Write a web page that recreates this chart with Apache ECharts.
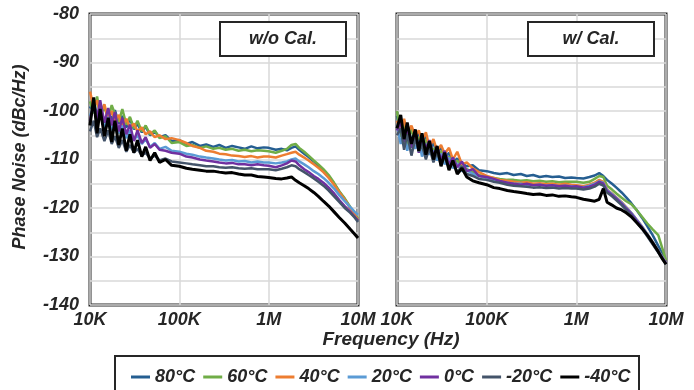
<!DOCTYPE html>
<html>
<head>
<meta charset="utf-8">
<script src="https://cdn.jsdelivr.net/npm/echarts@6/dist/echarts.min.js"></script>
<style>
  html, body { margin: 0; padding: 0; background: #fff; }
  #chart { width: 694px; height: 390px; }
</style>
</head>
<body>
<div id="chart"></div>
<script>
// frequency points in kHz
const freqKHz = [10, 11, 12, 13, 14.5, 16, 17.5, 19, 21, 23, 25.5, 28, 31, 34, 38, 42, 47, 53, 60, 70, 82,
  100, 120, 140, 170, 200, 240, 280, 330, 390, 460, 540, 640, 750, 880,
  1000, 1200, 1400, 1600, 1800, 2000, 2200, 2500, 2800, 3200, 3600, 4100, 4700, 5400, 6200, 7100, 8200, 9200, 10000]

const tempNames = ['80°C', '60°C', '40°C', '20°C', '0°C', '-20°C', '-40°C']
const tempColors = ['#255e91', '#70ad47', '#ed7d31', '#5b9bd5', '#7030a0', '#44546a', '#000000']
const xTickLabels = { 10: '10K', 100: '100K', 1000: '1M', 10000: '10M' }

// w/o Cal. (dBc/Hz)
const noCal80 = [-99.5, -97.8, -101.2, -99.0, -102.5, -100.2, -101.8, -99.8, -102.6, -101.0, -103.4, -101.6, -103.8, -102.6, -104.4, -103.2, -105.0, -104.2, -105.4, -105.0, -106.2,
  -106.0, -106.8, -106.4, -107.2, -106.9, -107.4, -107.0, -107.6, -107.2, -107.5, -107.8, -107.3, -107.7, -107.5,
  -107.6, -108.0, -107.8, -108.1, -107.6, -107.3, -108.0, -108.8, -109.5, -110.4, -111.3, -112.3, -113.5, -115.0, -116.7, -118.2, -120.0, -121.5, -122.6]
const noCal60 = [-98.0, -100.5, -97.0, -100.8, -99.2, -101.6, -98.8, -100.6, -102.2, -99.6, -102.8, -101.2, -103.6, -102.0, -104.2, -103.0, -104.8, -104.0, -105.6, -105.2, -106.6,
  -106.4, -107.2, -107.0, -107.6, -107.3, -107.8, -107.6, -108.0, -107.8, -108.2, -108.0, -108.3, -108.1, -108.2,
  -108.3, -108.6, -108.2, -107.8, -107.0, -106.8, -107.6, -108.4, -109.2, -110.2, -111.0, -112.0, -113.2, -114.8, -116.6, -118.0, -119.8, -121.2, -122.2]
const noCal40 = [-96.0, -99.2, -97.8, -100.6, -98.6, -101.8, -100.0, -102.0, -100.8, -103.2, -101.6, -103.4, -102.6, -104.2, -103.4, -104.8, -104.2, -105.4, -105.0, -105.8, -105.6,
  -106.0, -106.6, -107.2, -107.6, -108.2, -108.4, -108.8, -108.9, -109.2, -109.3, -109.5, -109.3, -109.6, -109.4,
  -109.4, -109.6, -109.2, -108.9, -108.6, -108.4, -109.0, -109.6, -110.2, -111.0, -111.7, -112.6, -113.8, -115.2, -116.8, -118.3, -120.0, -121.4, -122.5]
const noCal20 = [-101.0, -99.0, -102.4, -100.4, -103.6, -101.2, -104.0, -102.4, -104.6, -103.0, -105.6, -104.0, -106.0, -105.0, -106.8, -105.8, -107.4, -106.6, -107.8, -107.4, -108.2,
  -108.4, -108.8, -109.0, -109.4, -109.6, -109.8, -110.0, -110.2, -110.1, -110.4, -110.3, -110.6, -110.4, -110.6,
  -110.6, -110.8, -110.6, -110.4, -110.0, -109.8, -110.4, -111.0, -111.6, -112.4, -113.0, -113.8, -114.8, -116.0, -117.4, -118.6, -119.8, -120.8, -121.4]
const noCal0 = [-102.0, -98.4, -101.6, -97.8, -102.4, -99.4, -103.0, -100.2, -104.2, -101.4, -104.8, -102.8, -106.2, -104.0, -106.6, -105.4, -107.6, -106.8, -108.0, -108.2, -108.6,
  -108.8, -109.4, -109.6, -110.0, -110.2, -110.4, -110.6, -110.8, -110.7, -111.0, -111.0, -111.2, -111.0, -111.2,
  -111.3, -111.6, -111.2, -110.8, -110.2, -110.4, -111.2, -112.0, -112.6, -113.4, -114.0, -114.8, -115.8, -117.0, -118.4, -119.6, -120.8, -121.8, -122.6]
const noCalM20 = [-104.2, -102.0, -105.4, -103.6, -106.2, -104.0, -106.8, -105.2, -107.6, -106.0, -108.4, -107.0, -108.6, -107.8, -109.2, -108.6, -109.8, -109.2, -110.2, -109.8, -110.4,
  -110.6, -110.8, -111.0, -111.2, -111.4, -111.4, -111.6, -111.7, -111.6, -111.8, -111.9, -111.8, -112.0, -112.0,
  -112.0, -112.2, -111.9, -111.6, -111.2, -111.4, -112.0, -112.6, -113.2, -113.9, -114.6, -115.4, -116.4, -117.6, -118.8, -120.0, -121.0, -122.0, -122.9]
const noCalM40 = [-103.0, -97.2, -104.6, -99.6, -105.2, -101.4, -106.4, -102.0, -107.0, -103.6, -108.2, -104.8, -108.6, -106.0, -109.4, -107.4, -110.2, -108.6, -110.6, -110.0, -111.2,
  -111.4, -111.8, -112.0, -112.2, -112.4, -112.4, -112.6, -112.8, -112.7, -113.0, -113.2, -113.2, -113.5, -113.6,
  -113.7, -113.9, -114.0, -113.8, -113.6, -114.3, -114.8, -115.4, -116.0, -116.8, -117.6, -118.6, -119.6, -120.8, -122.0, -123.1, -124.4, -125.4, -126.2]

// w/ Cal. (dBc/Hz)
const cal80 = [-101.0, -104.6, -102.2, -105.8, -103.4, -106.6, -104.4, -107.2, -105.2, -108.0, -106.6, -108.8, -107.4, -109.8, -108.6, -110.6, -109.8, -110.8, -111.4, -111.2, -112.2,
  -112.4, -112.8, -113.0, -112.8, -113.2, -113.0, -113.4, -113.2, -113.6, -113.4, -113.6, -113.5, -113.8, -113.7,
  -113.8, -113.9, -113.6, -113.3, -112.8, -113.4, -114.2, -115.0, -115.8, -116.8, -117.8, -119.0, -120.4, -122.0, -123.8, -125.6, -127.8, -129.6, -131.0]
const cal60 = [-100.0, -105.4, -102.6, -107.4, -103.6, -106.2, -105.4, -108.6, -105.8, -107.6, -107.8, -109.6, -108.2, -110.4, -109.4, -111.2, -110.2, -111.6, -112.0, -112.6, -113.2,
  -113.6, -113.8, -114.0, -114.2, -114.2, -114.4, -114.3, -114.5, -114.4, -114.6, -114.5, -114.7, -114.6, -114.6,
  -114.6, -114.8, -114.6, -114.0, -113.4, -113.6, -115.4, -116.2, -117.0, -117.9, -118.6, -119.2, -120.4, -121.8, -123.2, -124.4, -125.6, -128.6, -130.8]
const cal40 = [-102.0, -104.0, -101.6, -104.8, -103.0, -105.2, -104.0, -106.2, -104.4, -107.4, -105.8, -108.2, -107.0, -108.8, -107.6, -110.0, -108.4, -111.0, -110.6, -111.8, -112.6,
  -113.4, -113.8, -114.2, -114.4, -114.6, -114.8, -114.7, -115.0, -114.9, -115.1, -115.0, -115.2, -115.0, -115.2,
  -115.3, -115.5, -115.2, -114.8, -114.2, -114.6, -116.2, -117.0, -117.8, -118.8, -119.8, -121.0, -122.4, -123.8, -125.4, -127.0, -128.8, -130.2, -131.2]
const cal20 = [-103.0, -106.8, -104.0, -108.2, -105.2, -107.8, -106.0, -109.4, -106.8, -109.0, -108.2, -110.2, -108.8, -111.0, -109.6, -111.8, -110.8, -112.4, -112.2, -113.0, -113.4,
  -113.8, -114.2, -114.6, -114.8, -115.0, -115.0, -115.2, -115.3, -115.2, -115.4, -115.3, -115.5, -115.4, -115.5,
  -115.6, -115.7, -115.4, -115.0, -114.5, -114.8, -116.3, -117.1, -117.9, -118.9, -119.9, -121.0, -122.4, -123.8, -125.4, -127.0, -128.8, -130.2, -131.3]
const cal0 = [-104.0, -102.2, -106.4, -103.4, -107.6, -104.0, -108.6, -105.2, -107.8, -106.0, -109.4, -107.4, -110.2, -108.2, -111.0, -109.6, -111.6, -110.4, -112.4, -112.0, -113.4,
  -113.6, -114.0, -114.4, -114.8, -115.0, -115.2, -115.0, -115.3, -115.2, -115.4, -115.3, -115.5, -115.4, -115.6,
  -115.5, -115.8, -115.6, -115.2, -114.6, -115.0, -116.5, -117.3, -118.1, -119.1, -120.1, -121.2, -122.6, -124.0, -125.6, -127.2, -129.0, -130.4, -131.4]
const calM20 = [-105.0, -103.6, -108.0, -104.8, -109.2, -105.6, -108.4, -107.0, -110.0, -107.6, -110.6, -108.4, -111.2, -109.4, -111.8, -110.6, -112.6, -111.4, -113.0, -113.4, -114.0,
  -114.2, -114.6, -114.8, -115.2, -115.4, -115.5, -115.6, -115.8, -115.7, -115.9, -115.8, -116.0, -115.9, -116.0,
  -116.0, -116.2, -116.0, -115.6, -115.0, -115.4, -116.8, -117.6, -118.4, -119.4, -120.4, -121.5, -122.9, -124.3, -125.9, -127.5, -129.2, -130.6, -131.6]
const calM40 = [-103.6, -100.8, -105.8, -102.4, -106.8, -103.8, -108.2, -104.6, -109.0, -106.2, -110.0, -107.2, -111.4, -108.6, -112.2, -110.2, -113.0, -111.8, -113.6, -114.4, -114.8,
  -115.2, -115.8, -116.0, -116.4, -116.6, -116.8, -117.0, -117.2, -117.1, -117.4, -117.3, -117.6, -117.5, -117.7,
  -117.8, -118.2, -118.4, -118.6, -118.2, -116.0, -118.8, -119.4, -120.0, -120.4, -121.0, -121.8, -123.0, -124.2, -125.6, -127.2, -129.0, -130.6, -131.6]

const noCalData = [noCal80, noCal60, noCal40, noCal20, noCal0, noCalM20, noCalM40]
const calData = [cal80, cal60, cal40, cal20, cal0, calM20, calM40]

const textColor = '#262626'
const fontFamily = 'Liberation Sans, Arial, sans-serif'
const gridLineColor = '#d9d9d9'

function pairs(values) {
  return freqKHz.map((f, i) => [f, values[i]])
}

function makeXAxis(gridIndex) {
  return {
    type: 'log',
    logBase: 10,
    gridIndex: gridIndex,
    min: 10,
    max: 10000,
    axisLine: { show: false },
    axisTick: { show: false },
    splitLine: { show: true, lineStyle: { color: gridLineColor, width: 1.5 } },
    axisLabel: {
      showMinLabel: true,
      showMaxLabel: true,
      margin: 6,
      color: textColor,
      fontFamily: fontFamily,
      fontWeight: 'bold',
      fontStyle: 'italic',
      fontSize: 18,
      formatter: function (v) {
        return xTickLabels[Math.round(v)] || ''
      },
    },
  }
}

function makeYAxis(gridIndex, showLabels) {
  return {
    type: 'value',
    gridIndex: gridIndex,
    min: -140,
    max: -80,
    interval: 5,
    axisLine: { show: false },
    axisTick: { show: false },
    splitLine: { show: true, lineStyle: { color: gridLineColor, width: 1.5 } },
    axisLabel: {
      show: showLabels,
      margin: 11,
      color: textColor,
      fontFamily: fontFamily,
      fontWeight: 'bold',
      fontStyle: 'italic',
      fontSize: 18,
      formatter: function (v) {
        return v % 10 === 0 ? String(v) : ''
      },
    },
  }
}

const series = []
tempNames.forEach((name, k) => {
  series.push({
    name: name,
    type: 'line',
    xAxisIndex: 0,
    yAxisIndex: 0,
    symbol: 'none',
    data: pairs(noCalData[k]),
    lineStyle: { color: tempColors[k], width: k === 6 ? 3 : 2.5 },
    itemStyle: { color: tempColors[k] },
  })
})
tempNames.forEach((name, k) => {
  series.push({
    name: name,
    type: 'line',
    xAxisIndex: 1,
    yAxisIndex: 1,
    symbol: 'none',
    data: pairs(calData[k]),
    lineStyle: { color: tempColors[k], width: k === 6 ? 3 : 2.5 },
    itemStyle: { color: tempColors[k] },
  })
})

const boldItalic = {
  fill: textColor,
  fontFamily: fontFamily,
  fontWeight: 'bold',
  fontStyle: 'italic',
}

const chart = echarts.init(document.getElementById('chart'), null, { renderer: 'canvas' })
const option = {
  backgroundColor: '#ffffff',
  animation: false,
  grid: [
    { left: 90, right: 336, top: 14, bottom: 85, show: true, borderColor: textColor, borderWidth: 3, backgroundColor: 'transparent' },
    { left: 397, right: 28, top: 14, bottom: 85, show: true, borderColor: textColor, borderWidth: 3, backgroundColor: 'transparent' },
  ],
  xAxis: [makeXAxis(0), makeXAxis(1)],
  yAxis: [makeYAxis(0, true), makeYAxis(1, false)],
  legend: {
    data: tempNames,
    left: 126,
    top: 363,
    icon: 'rect',
    itemWidth: 19,
    itemHeight: 3,
    itemGap: 8,
    textStyle: {
      color: textColor,
      fontFamily: fontFamily,
      fontWeight: 'bold',
      fontStyle: 'italic',
      fontSize: 18,
    },
  },
  graphic: [
    { type: 'rect', shape: { x: 115, y: 356, width: 524, height: 36 }, style: { fill: 'none', stroke: textColor, lineWidth: 2 }, z: 100 },
    { type: 'rect', shape: { x: 220, y: 22, width: 126, height: 34 }, style: { fill: '#fff', stroke: textColor, lineWidth: 2 }, z: 100 },
    { type: 'text', x: 283, y: 39, style: Object.assign({ text: 'w/o Cal.', fontSize: 18, align: 'center', verticalAlign: 'middle' }, boldItalic), z: 101 },
    { type: 'rect', shape: { x: 528, y: 22, width: 126, height: 34 }, style: { fill: '#fff', stroke: textColor, lineWidth: 2 }, z: 100 },
    { type: 'text', x: 591, y: 39, style: Object.assign({ text: 'w/ Cal.', fontSize: 18, align: 'center', verticalAlign: 'middle' }, boldItalic), z: 101 },
    { type: 'text', x: 391, y: 340, style: Object.assign({ text: 'Frequency (Hz)', fontSize: 19, align: 'center', verticalAlign: 'middle' }, boldItalic), z: 101 },
    { type: 'text', x: 20, y: 157, rotation: Math.PI / 2, style: Object.assign({ text: 'Phase Noise (dBc/Hz)', fontSize: 18, align: 'center', verticalAlign: 'middle' }, boldItalic), z: 101 },
  ],
  series: series,
}
chart.setOption(option)
</script>
</body>
</html>
